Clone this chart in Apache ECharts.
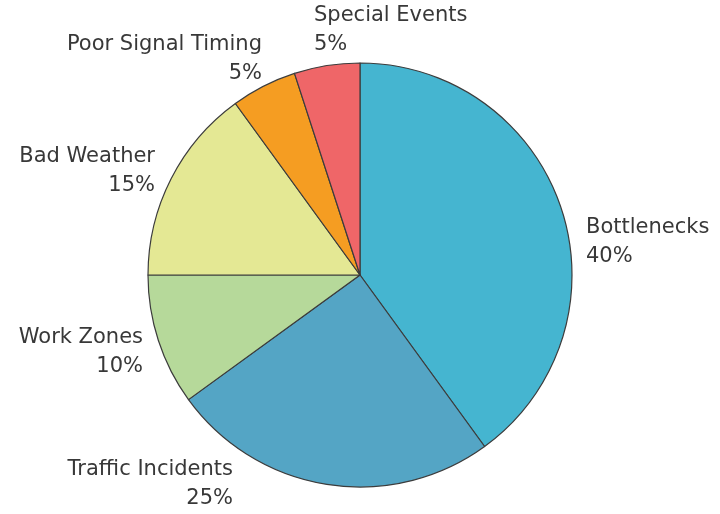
<!DOCTYPE html>
<html>
<head>
<meta charset="utf-8">
<script src="https://cdn.jsdelivr.net/npm/echarts@6/dist/echarts.min.js"></script>
<style>html,body{margin:0;padding:0;background:#fff}#c{width:720px;height:514px}</style>
</head>
<body>
<div id="c"></div>
<script>
const categories = ['Bottlenecks', 'Traffic Incidents', 'Work Zones', 'Bad Weather', 'Poor Signal Timing', 'Special Events'];
const values = [40, 25, 10, 15, 5, 5];
const colors = ['#45b5d0', '#54a5c5', '#b6d99a', '#e4e894', '#f59d22', '#ef6668'];
// label anchor styling (text placement only)
const labelAnchors = [
  {x: 586, y: 242, align: 'left'},
  {x: 233, y: 484, align: 'right'},
  {x: 143, y: 352, align: 'right'},
  {x: 155, y: 171, align: 'right'},
  {x: 262, y: 59, align: 'right'},
  {x: 314, y: 30, align: 'left'}
];

const chart = echarts.init(document.getElementById('c'), null, {renderer: 'canvas'});
chart.setOption({
  animation: false,
  backgroundColor: '#ffffff',
  series: [{
    type: 'pie',
    center: [360, 275],
    radius: 212,
    startAngle: 90,
    clockwise: true,
    data: categories.map((name, i) => ({
      name, value: values[i],
      itemStyle: {color: colors[i]}
    })),
    itemStyle: {borderColor: '#3c3c3c', borderWidth: 1.2},
    emphasis: {disabled: true},
    label: {
      show: true,
      position: 'outside',
      alignTo: 'none',
      overflow: 'none',
      formatter: p => p.name + '\n' + p.value + '%',
      fontFamily: 'DejaVu Sans',
      fontSize: 21,
      lineHeight: 29,
      color: '#383838'
    },
    labelLine: {show: false},
    labelLayout: params => {
      const a = labelAnchors[params.dataIndex];
      return {x: a.x, y: a.y, align: a.align, verticalAlign: 'middle', width: 300};
    }
  }]
});
</script>
</body>
</html>
